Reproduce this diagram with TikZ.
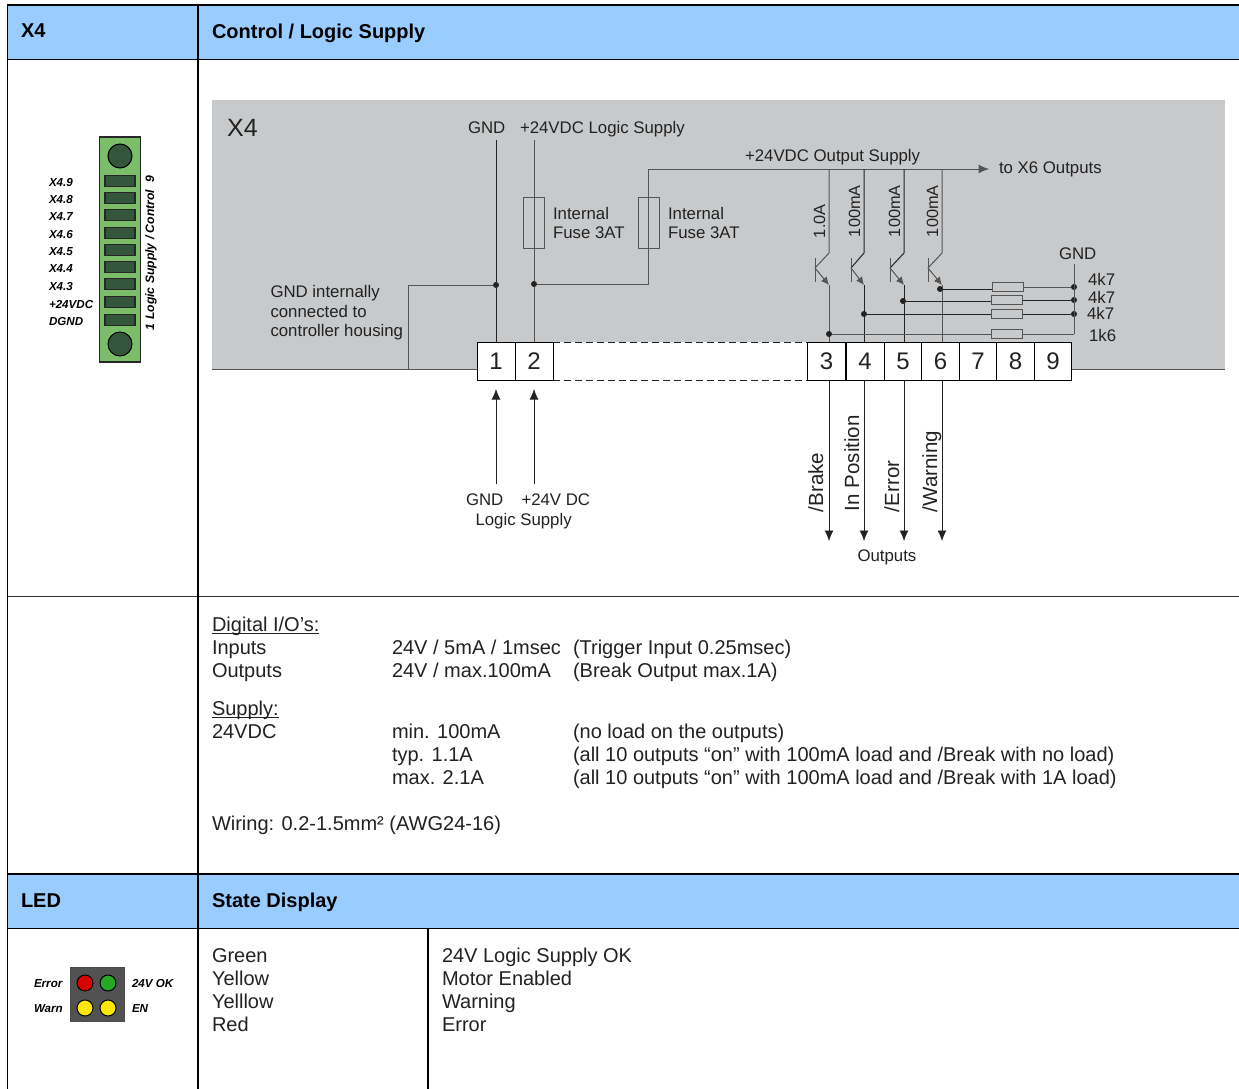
\documentclass[tikz,border=0pt]{standalone}
\usepackage{fontspec}
\setmainfont{Liberation Sans}
\usetikzlibrary{arrows.meta}
\definecolor{hdr}{HTML}{99CCFF}
\definecolor{panel}{HTML}{C8C9CB}
\definecolor{ink}{HTML}{222222}
\definecolor{wiregray}{HTML}{555555}
\definecolor{cgreen}{HTML}{7CBD6A}
\definecolor{cdark}{HTML}{34563A}
\tikzset{
 x=1pt,y=-1pt,
 txt/.style={anchor=base west,inner sep=0,outer sep=0,text=ink,font=\fontsize{20}{20}\selectfont},
 hd/.style={anchor=base west,inner sep=0,outer sep=0,text=black,font=\fontsize{20}{20}\selectfont\bfseries},
 dia/.style={anchor=base west,inner sep=0,outer sep=0,text=ink,font=\fontsize{16.8}{16.8}\selectfont},
 rot/.style={anchor=base west,rotate=90,inner sep=0,outer sep=0,text=ink,font=\fontsize{20.5}{20.5}\selectfont},
 rotsmall/.style={anchor=base west,rotate=90,inner sep=0,outer sep=0,text=ink,font=\fontsize{16.3}{16.3}\selectfont},
 lab/.style={anchor=base west,inner sep=0,outer sep=0,text=black,font=\fontsize{11.6}{11.6}\selectfont\bfseries\itshape},
 term/.style={draw=black,line width=1pt,fill=white,minimum width=38pt,minimum height=38pt,inner sep=0,outer sep=0,text=ink,font=\fontsize{24}{24}\selectfont},
 rule/.style={line width=1.5pt,draw=black},
 thinrule/.style={line width=0.8pt,draw=black!80},
 wire/.style={line width=1pt,draw=wiregray},
 wirek/.style={line width=0.9pt,draw=ink},
 fuse/.style={draw=wiregray,line width=0.9pt,minimum width=21pt,minimum height=51pt,inner sep=0},
 res/.style={draw=wiregray,fill=panel,line width=1pt,minimum width=31pt,minimum height=8.5pt,inner sep=0},
 dotn/.style={circle,fill=ink,inner sep=0,minimum size=6pt},
 tip/.style={-{Latex[length=10.5pt,width=9pt]}},
 slot/.style={draw=black!85,line width=1.2pt,fill=cdark,minimum width=30pt,minimum height=11pt,inner sep=0},
 screw/.style={circle,draw=black,line width=1pt,fill=cdark,minimum size=24pt,inner sep=0},
 led/.style={circle,draw=black,line width=1pt,minimum size=16pt,inner sep=0},
}
\begin{document}
\begin{tikzpicture}
\useasboundingbox (0,0) rectangle (1239,1089);
\fill[white] (0,0) rectangle (1239,1089);
% header bands
\fill[hdr] (7,5) rectangle (1239,59);
\fill[hdr] (7,874) rectangle (1239,928);
% panel
\fill[panel] (212,100) rectangle (1225,369);
\draw[wire] (212,369) -- (477,369);
\draw[wire] (1072,369) -- (1225,369);
% table rules
\draw[rule] (7,5) -- (1239,5);
\draw[rule] (7,59.5) -- (1239,59.5);
\draw[thinrule] (7,596) -- (1239,596);
\draw[rule] (7,874) -- (1239,874);
\draw[rule] (7,928.5) -- (1239,928.5);
\draw[rule] (7.5,5) -- (7.5,1089);
\draw[rule] (198,5) -- (198,1089);
\draw[rule] (428,928) -- (428,1089);
% headers
\node[hd] (hx4) at (21,38) {X4};
\node[hd] (hctl) at (212,39) {Control / Logic Supply};
\node[hd] (hled) at (21,907) {LED};
\node[hd] (hstate) at (212,907) {State Display};
% connector block
\node[draw=black!85,line width=1.2pt,fill=cgreen,minimum width=41pt,minimum height=225pt,inner sep=0] (conn) at (120,249.5) {};
\node[screw] (s1) at (120,156) {};
\node[screw] (s2) at (120,344) {};
\foreach \n/\y in {a/181,b/198,c/215,d/233,e/250,f/267,g/284,h/302,i/320}
  \node[slot] (slot\n) at (120,\y) {};
\node[lab] (l9) at (49,186) {X4.9};
\node[lab] (l8) at (49,203.5) {X4.8};
\node[lab] (l7) at (49,220.5) {X4.7};
\node[lab] (l6) at (49,238) {X4.6};
\node[lab] (l5) at (49,255.5) {X4.5};
\node[lab] (l4) at (49,272.5) {X4.4};
\node[lab] (l3) at (49,290) {X4.3};
\node[lab] (l2) at (49,308) {+24VDC};
\node[lab] (l1) at (49,325) {DGND};
\node[lab,rotate=90,font=\fontsize{12.2}{12.2}\selectfont\bfseries\itshape] (lrot) at (154,330) {1 Logic Supply / Control\ \ 9};
% LED block
\node[draw=black!70,fill=black!68,minimum width=54pt,minimum height=54pt,inner sep=0] (ledbox) at (97,994) {};
\node[led,fill=red!85!black] (ledr) at (85,983) {};
\node[led,fill=green!60!black!85!white] (ledg) at (108,983) {};
\node[led,fill=yellow!90!orange] (ledy1) at (85,1008) {};
\node[led,fill=yellow!90!orange] (ledy2) at (108,1008) {};
\node[lab] (lerr) at (34,987) {Error};
\node[lab] (lwarn) at (34,1012) {Warn};
\node[lab] (l24) at (132,987) {24V OK};
\node[lab] (len) at (132,1012) {EN};
% terminal strip
\fill[white] (553,342) rectangle (807,380);
\node[coordinate] (dt1) at (553,342) {};
\node[coordinate] (dt2) at (807,342) {};
\node[coordinate] (db1) at (553,380) {};
\node[coordinate] (db2) at (807,380) {};
\draw[line width=0.9pt,draw=ink,dash pattern=on 7pt off 4pt] (dt1) -- (dt2);
\draw[line width=0.9pt,draw=ink,dash pattern=on 7pt off 4pt] (db1) -- (db2);
\node[term] (t1) at (496,361) {1};
\node[term] (t2) at (534,361) {2};
\node[term] (t3) at (826.5,361) {3};
\node[term] (t4) at (865,361) {4};
\node[term] (t5) at (903,361) {5};
\node[term] (t6) at (940.5,361) {6};
\node[term,minimum width=37.5pt] (t7) at (978,361) {7};
\node[term,minimum width=37.5pt] (t8) at (1015.5,361) {8};
\node[term,minimum width=37.5pt] (t9) at (1053,361) {9};
% input wires
\coordinate (gt) at (496,140);
\coordinate (st) at (534,140);
\node[dotn] (jg) at (496,285) {};
\node[dotn] (js) at (534,284) {};
\coordinate (gh) at (408,285);
\coordinate (gb) at (408,369);
\draw[wirek] (gt) -- (jg) -- (jg |- t1.north);
\draw[wire] (st) -- (js) -- (js |- t2.north);
\draw[wire] (jg) -- (gh) -- (gb);
\node[fuse] (f1) at (533.5,222.5) {};
\node[fuse] (f2) at (649,222.5) {};
\coordinate (sc) at (648,169);
\coordinate (sb) at (648,284);
\draw[wire] (js) -- (sb) -- (sc);
\coordinate (sarrow) at (989,169);
\draw[wire,tip] (sc) -- (sarrow);
% transistors
\foreach \k/\cx/\bx/\wc in {a/829/815/wiregray,b/864/851/ink,c/904/890/ink,d/942/928/wiregray}{
  \coordinate (ct\k) at (\cx,169);
  \coordinate (cb\k) at (\cx,253);
  \coordinate (bm\k) at (\bx,268);
  \coordinate (bt\k) at (\bx,258);
  \coordinate (bb\k) at (\bx,282);
  \coordinate (ee\k) at (\cx,285);
  \coordinate (bo\k) at (\cx,380);
  \coordinate (tp\k) at (\cx,342);
  \coordinate (en\k) at (\cx,541);
  \draw[wire,draw=\wc] (ct\k) -- (cb\k) -- (bm\k);
  \draw[wire] (bt\k) -- (bb\k);
  \draw[wire,-{Latex[length=8pt,width=7.5pt]}] (bm\k) -- (ee\k);
  \draw[wire,draw=\wc] (ee\k) -- (tp\k);
  \draw[wirek,tip] (bo\k) -- (en\k);
}
% resistors
\coordinate (gndt) at (1074,264);
\coordinate (gndb) at (1074,334);
\node[dotn] (d6) at (940,289) {};
\node[dotn] (d5) at (903,301) {};
\node[dotn] (d4) at (864,314) {};
\node[dotn] (d3) at (829,334) {};
\node[dotn] (g6) at (1074,287) {};
\node[dotn] (g5) at (1074,300) {};
\node[dotn] (g4) at (1074,314) {};
\draw[wire] (gndt) -- (gndb);
\node[res] (r6) at (1008,287) {};
\node[res] (r5) at (1007,300) {};
\node[res] (r4) at (1007,314) {};
\node[res] (r3) at (1007,334) {};
\draw[wirek] (d6) -- (r6.west |- d6);
\draw[wire] (r6.east) -- (g6);
\draw[wirek] (d5) -- (r5.west |- d5);
\draw[wirek] (r5.east) -- (g5);
\draw[wirek] (d4) -- (r4.west);
\draw[wirek] (r4.east) -- (g4);
\draw[wire] (d3) -- (r3.west);
\draw[wire] (r3.east) -- (gndb);
% bottom arrows
\coordinate (ag) at (496,484);
\coordinate (as) at (534,484);
\draw[wirek,tip,shorten >=9pt] (ag) -- (t1.south);
\draw[wirek,tip,shorten >=9pt] (as) -- (t2.south);
% diagram text
\node[anchor=base west,inner sep=0,text=ink,font=\fontsize{25}{25}\selectfont] (xfour) at (227,136) {X4};
\node[dia] (tgnd) at (468,134) {GND};
\node[dia] (tlog) at (520,134) {+24VDC Logic Supply};
\node[dia] (tout) at (745,161) {+24VDC Output Supply};
\node[dia] (tx6) at (999,173) {to X6 Outputs};
\node[dia] (tf1a) at (553,219) {Internal};
\node[dia] (tf1b) at (553,238) {Fuse 3AT};
\node[dia] (tf2a) at (668,219) {Internal};
\node[dia] (tf2b) at (668,238) {Fuse 3AT};
\node[dia] (tg1) at (270.5,297) {GND internally};
\node[dia] (tg2) at (270.5,317) {connected to};
\node[dia] (tg3) at (270.5,336) {controller housing};
\node[dia] (tgg) at (1059,259) {GND};
\node[dia] (r1t) at (1088,285) {4k7};
\node[dia] (r2t) at (1088,303) {4k7};
\node[dia] (r3t) at (1087,319) {4k7};
\node[dia] (r4t) at (1089,341) {1k6};
\node[dia] (bgnd) at (466,505) {GND};
\node[dia] (b24) at (521.5,505) {+24V DC};
\node[dia] (blog) at (475.5,525) {Logic Supply};
\node[dia] (bout) at (857.5,561) {Outputs};
\node[rotsmall] (a10) at (825,238) {1.0A};
\node[rotsmall] (a100a) at (860,237) {100mA};
\node[rotsmall] (a100b) at (900,237) {100mA};
\node[rotsmall] (a100c) at (938,237) {100mA};
\node[rot] (obrake) at (823,512) {/Brake};
\node[rot] (oinpos) at (859,511) {In Position};
\node[rot] (oerr) at (899,512) {/Error};
\node[rot] (owarn) at (937,512) {/Warning};
% spec text
\node[txt] (s1a) at (212,631) {Digital I/O’s:};
\draw[draw=ink,line width=0.9pt] ([yshift=-2.5pt]s1a.base west) -- ([yshift=-2.5pt]s1a.base east);
\node[txt] (s2a) at (212,654) {Inputs};
\node[txt] (s2b) at (392,654) {24V / 5mA / 1msec};
\node[txt] (s2c) at (573,654) {(Trigger Input 0.25msec)};
\node[txt] (s3a) at (212,677) {Outputs};
\node[txt] (s3b) at (392,677) {24V / max.100mA};
\node[txt] (s3c) at (573,677) {(Break Output max.1A)};
\node[txt] (s4a) at (212,715) {Supply:};
\draw[draw=ink,line width=0.9pt] ([yshift=-2.5pt]s4a.base west) -- ([yshift=-2.5pt]s4a.base east);
\node[txt] (s5a) at (212,738) {24VDC};
\node[txt] (s5b) at (392,738) {min. 100mA};
\node[txt] (s5c) at (573,738) {(no load on the outputs)};
\node[txt] (s6b) at (392,761) {typ. 1.1A};
\node[txt] (s6c) at (573,761) {(all 10 outputs “on” with 100mA load and /Break with no load)};
\node[txt] (s7b) at (392,784) {max. 2.1A};
\node[txt] (s7c) at (573,784) {(all 10 outputs “on” with 100mA load and /Break with 1A load)};
\node[txt] (s8a) at (212,830) {Wiring: 0.2-1.5mm² (AWG24-16)};
% state table
\node[txt] (c1) at (212,962) {Green};
\node[txt] (c2) at (212,985) {Yellow};
\node[txt] (c3) at (212,1008) {Yelllow};
\node[txt] (c4) at (212,1031) {Red};
\node[txt] (m1) at (442,962) {24V Logic Supply OK};
\node[txt] (m2) at (442,985) {Motor Enabled};
\node[txt] (m3) at (442,1008) {Warning};
\node[txt] (m4) at (442,1031) {Error};
\end{tikzpicture}
\end{document}
